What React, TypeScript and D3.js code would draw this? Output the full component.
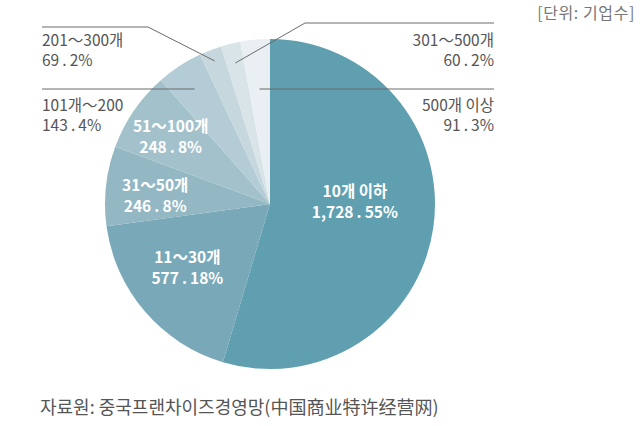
import React, { useEffect, useRef } from "react";
import * as d3 from "d3";

// 데이터
const categories = ["10개 이하", "11～30개", "31～50개", "51～100개", "101개～200", "201～300개", "301～500개", "500개 이상"];
const values = [1728.55, 577.18, 246.8, 248.8, 143.4, 69.2, 60.2, 91.3];
const valueLabels = ["1,728\u2009.\u200955%", "577\u2009.\u200918%", "246\u2009.\u20098%", "248\u2009.\u20098%", "143\u2009.\u20094%", "69\u2009.\u20092%", "60\u2009.\u20092%", "91\u2009.\u20093%"];
const colors = ["#5f9fb0", "#79a9b8", "#93b7c3", "#a3c1cb", "#b4ccd5", "#c6d7de", "#d9e4e9", "#e9eff2"];

const unitText = "[단위: 기업수]";
const sourceText = "자료원: 중국프랜차이즈경영망(中国商业特许经营网)";

const App = () => {
  const svgRef = useRef<SVGSVGElement>(null);

  useEffect(() => {
    const width = 642, height = 426;
    const cx = 270, cy = 204, radius = 165;
    const font = "'Noto Sans CJK KR', 'Noto Sans', sans-serif";

    const svg = d3.select(svgRef.current);
    svg.selectAll("*").remove();
    svg.attr("width", width).attr("height", height);

    const pie = d3.pie<number>().sort(null).value(d => d);
    const arcs = pie(values);
    const arc = d3.arc<d3.PieArcDatum<number>>().innerRadius(0).outerRadius(radius);

    const g = svg.append("g").attr("transform", `translate(${cx},${cy})`);

    g.selectAll("path")
      .data(arcs)
      .enter()
      .append("path")
      .attr("d", arc)
      .attr("fill", (d, i) => colors[i]);

    // 안쪽 라벨 (0~3) : 반지름 비율, 세로 보정
    const innerPos = [[0.52, -15], [0.66, -8], [0.7, 4], [0.73, 0]];
    innerPos.forEach(([f, dy], i) => {
      const a = arcs[i];
      const mid = (a.startAngle + a.endAngle) / 2;
      const x = Math.sin(mid) * radius * f;
      const y = -Math.cos(mid) * radius * f + dy;
      const t = g.append("text")
        .attr("text-anchor", "middle")
        .attr("fill", "#fff")
        .attr("font-family", font)
        .attr("font-size", 15.5)
        .attr("font-weight", 700);
      t.append("tspan").attr("x", x).attr("y", y - 4).text(categories[i]);
      t.append("tspan").attr("x", x).attr("y", y + 17).text(valueLabels[i]);
    });

    const midPoint = (i: number, f: number) => {
      const a = arcs[i];
      const mid = (a.startAngle + a.endAngle) / 2;
      return [cx + Math.sin(mid) * radius * f, cy - Math.cos(mid) * radius * f];
    };
    const pointAtY = (i: number, y: number) => {
      const a = arcs[i];
      const mid = (a.startAngle + a.endAngle) / 2;
      const r = (cy - y) / Math.cos(mid);
      return [cx + Math.sin(mid) * r, y];
    };

    const lineColor = "#6b6b6b";
    const line = d3.line();
    const drawLine = (pts: number[][]) =>
      svg.append("path")
        .attr("d", line(pts as [number, number][]))
        .attr("fill", "none").attr("stroke", lineColor).attr("stroke-width", 1);

    // 201~300 : 꺾인 선
    drawLine([[42, 27], [148, 27], midPoint(5, 0.93)]);
    // 301~500
    drawLine([midPoint(6, 0.88), [305, 23], [494, 23]]);
    // 101~200
    drawLine([[42, 89], pointAtY(4, 89)]);
    // 500 이상
    drawLine([pointAtY(7, 89), [494, 89]]);

    // 바깥 라벨
    const outer = [
      { i: 5, x: 42, y: 46, anchor: "start" },
      { i: 4, x: 42, y: 111, anchor: "start" },
      { i: 6, x: 494, y: 46, anchor: "end" },
      { i: 7, x: 494, y: 111, anchor: "end" },
    ];
    outer.forEach(o => {
      const t = svg.append("text")
        .attr("text-anchor", o.anchor)
        .attr("fill", "#555")
        .attr("font-family", font)
        .attr("font-size", 15.5);
      t.append("tspan").attr("x", o.x).attr("y", o.y).text(categories[o.i]);
      t.append("tspan").attr("x", o.x).attr("y", o.y + 20).text(valueLabels[o.i]);
    });

    svg.append("text")
      .attr("x", 635).attr("y", 19)
      .attr("text-anchor", "end")
      .attr("fill", "#777")
      .attr("font-family", font)
      .attr("font-size", 16)
      .attr("letter-spacing", 0.6)
      .text(unitText);

    svg.append("text")
      .attr("x", 40).attr("y", 414)
      .attr("fill", "#555")
      .attr("font-family", font)
      .attr("font-size", 18)
      .text(sourceText);
  }, []);

  return (
    <svg ref={svgRef} style={{ position: "absolute", left: 0, top: 0, display: "block", background: "#fff" }} />
  );
};

export default App;
